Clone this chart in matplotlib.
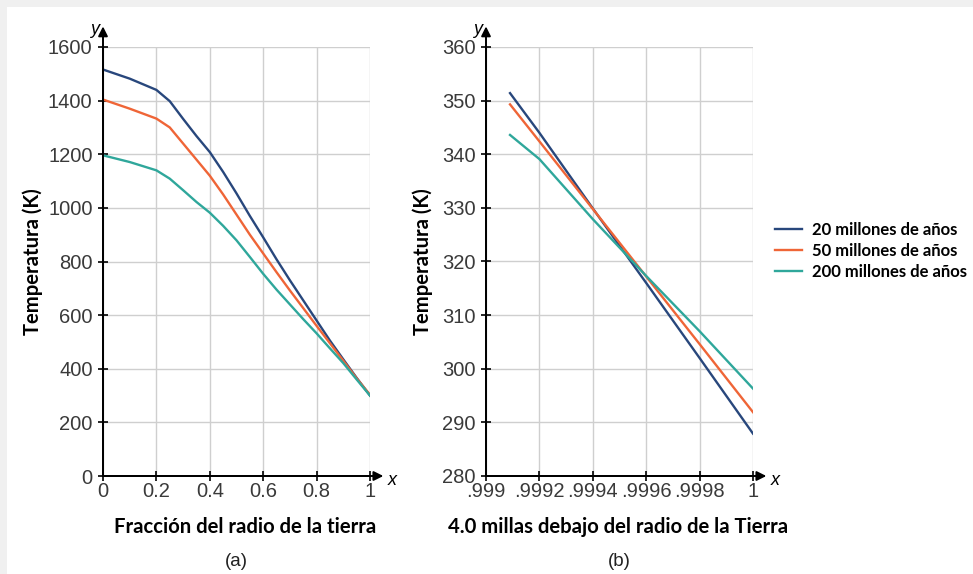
import matplotlib
matplotlib.use("Agg")
import matplotlib.pyplot as plt
from matplotlib.patches import Rectangle

# ---- data ----
SERIES = ["20 millones de años", "50 millones de años", "200 millones de años"]
COLORS = ["#28477c", "#ef6537", "#2fa79b"]

# (a) whole radius
frac_x = [0, .1, .2, .25, .3, .35, .4, .45, .5, .55, .6, .65, .7, .75, .8, .85, .9, .95, 1]
temp_20 = [1516, 1482, 1440, 1398, 1332, 1268, 1208, 1134, 1054, 970, 890, 808, 730, 655, 580, 505, 435, 366, 300]
temp_50 = [1404, 1370, 1333, 1300, 1240, 1180, 1120, 1050, 975, 900, 830, 760, 692, 626, 560, 495, 430, 364, 303]
temp_200 = [1196, 1171, 1140, 1109, 1066, 1022, 982, 933, 879, 817, 754, 695, 640, 585, 532, 476, 421, 360, 300]

# (b) last 4 miles below the surface
near_x = [.99909, .9992, .9994, .9996, .9998, 1.0]
near_20 = [351.4, 344.0, 329.9, 316.0, 302.0, 287.9]
near_50 = [349.3, 342.4, 329.8, 317.2, 304.6, 291.9]
near_200 = [343.6, 339.1, 327.9, 317.3, 307.0, 296.3]

left_xticks = [0, .2, .4, .6, .8, 1]
left_xlabels = ["0", "0.2", "0.4", "0.6", "0.8", "1"]
left_yticks = [0, 200, 400, 600, 800, 1000, 1200, 1400, 1600]
right_xticks = [.999, .9992, .9994, .9996, .9998, 1]
right_xlabels = [".999", ".9992", ".9994", ".9996", ".9998", "1"]
right_yticks = [280, 290, 300, 310, 320, 330, 340, 350, 360]

TICK_FONT = "Liberation Sans"
LABEL_FONT = "Lato"
LABEL_SIZE = 14.6

W, H = 973, 574
fig = plt.figure(figsize=(W / 100, H / 100), dpi=100)
fig.patch.set_facecolor("white")
# faint grey frame along top and left edge
fig.patches.append(Rectangle((0, 1 - 7 / H), 1, 7 / H, transform=fig.transFigure,
                             facecolor="#f0f0f0", edgecolor="none"))
fig.patches.append(Rectangle((0, 0), 7 / W, 1, transform=fig.transFigure,
                             facecolor="#f0f0f0", edgecolor="none"))


def px_axes(x0, x1, y0, y1):
    return fig.add_axes([x0 / W, 1 - y1 / H, (x1 - x0) / W, (y1 - y0) / H])


def style(ax, xticks, xlabels, yticks, xlim, ylim):
    ax.set_xlim(*xlim)
    ax.set_ylim(*ylim)
    ax.set_xticks(xticks)
    ax.set_xticklabels(xlabels)
    ax.set_yticks(yticks)
    ax.grid(True, color="#cfcfcf", linewidth=1)
    ax.set_axisbelow(True)
    for s in ("top", "right"):
        ax.spines[s].set_visible(False)
    for s in ("left", "bottom"):
        ax.spines[s].set_linewidth(1.4)
        ax.spines[s].set_color("black")
    ax.tick_params(direction="inout", length=7, width=1.2, colors="black",
                   labelcolor="#3a3a3a", labelsize=14.5)
    ax.tick_params(axis="y", pad=4)
    ax.tick_params(axis="x", pad=1)
    for lab in ax.get_xticklabels() + ax.get_yticklabels():
        lab.set_family(TICK_FONT)
    # axis arrows
    ax.annotate("", xy=(0, 1.048), xytext=(0, 0), xycoords="axes fraction",
                arrowprops=dict(arrowstyle="-|>", color="black", lw=1.4,
                                mutation_scale=14, shrinkA=0, shrinkB=0),
                annotation_clip=False)
    ax.annotate("", xy=(1.05, 0), xytext=(0, 0), xycoords="axes fraction",
                arrowprops=dict(arrowstyle="-|>", color="black", lw=1.4,
                                mutation_scale=14, shrinkA=0, shrinkB=0),
                annotation_clip=False)
    ax.text(-0.015, 1.04, "y", transform=ax.transAxes, ha="right", va="center",
            fontsize=13, style="italic", family=TICK_FONT)
    ax.text(1.065, -0.01, "x", transform=ax.transAxes, ha="left", va="center",
            fontsize=13, style="italic", family=TICK_FONT)


ax1 = px_axes(103, 370, 47, 476)
for ys, c in zip([temp_20, temp_50, temp_200], COLORS):
    ax1.plot(frac_x, ys, color=c, linewidth=1.7)
style(ax1, left_xticks, left_xlabels, left_yticks, (0, 1), (0, 1600))
ax1.set_xlabel("Fracción del radio de la tierra", family=LABEL_FONT,
               fontweight="bold", fontsize=LABEL_SIZE)
ax1.set_ylabel("Temperatura (K)", family=LABEL_FONT, fontweight="bold",
               fontsize=LABEL_SIZE)
ax1.xaxis.set_label_coords(0.532, -0.096)
ax1.yaxis.set_label_coords(-0.223, 0.5)
ax1.text(0.5, -0.2, "(a)", transform=ax1.transAxes, ha="center", va="center",
         fontsize=13.5, family=TICK_FONT, color="#222222")

ax2 = px_axes(486, 753, 47, 476)
lines = []
for ys, c, name in zip([near_20, near_50, near_200], COLORS, SERIES):
    ln, = ax2.plot(near_x, ys, color=c, linewidth=1.7, label=name)
    lines.append(ln)
style(ax2, right_xticks, right_xlabels, right_yticks, (.999, 1), (280, 360))
ax2.set_xlabel("4.0 millas debajo del radio de la Tierra", family=LABEL_FONT,
               fontweight="bold", fontsize=LABEL_SIZE)
ax2.set_ylabel("Temperatura (K)", family=LABEL_FONT, fontweight="bold",
               fontsize=LABEL_SIZE)
ax2.xaxis.set_label_coords(0.494, -0.096)
ax2.yaxis.set_label_coords(-0.199, 0.5)
ax2.text(0.5, -0.2, "(b)", transform=ax2.transAxes, ha="center", va="center",
         fontsize=13.5, family=TICK_FONT, color="#222222")

fig.legend(handles=lines, loc="center left", bbox_to_anchor=(760 / W, 1 - 251 / H),
           frameon=False, handlelength=1.6, handletextpad=0.6, labelspacing=0.3,
           prop={"family": LABEL_FONT, "weight": "bold", "size": 12})

fig.savefig("out.png", dpi=100, facecolor=fig.get_facecolor())
